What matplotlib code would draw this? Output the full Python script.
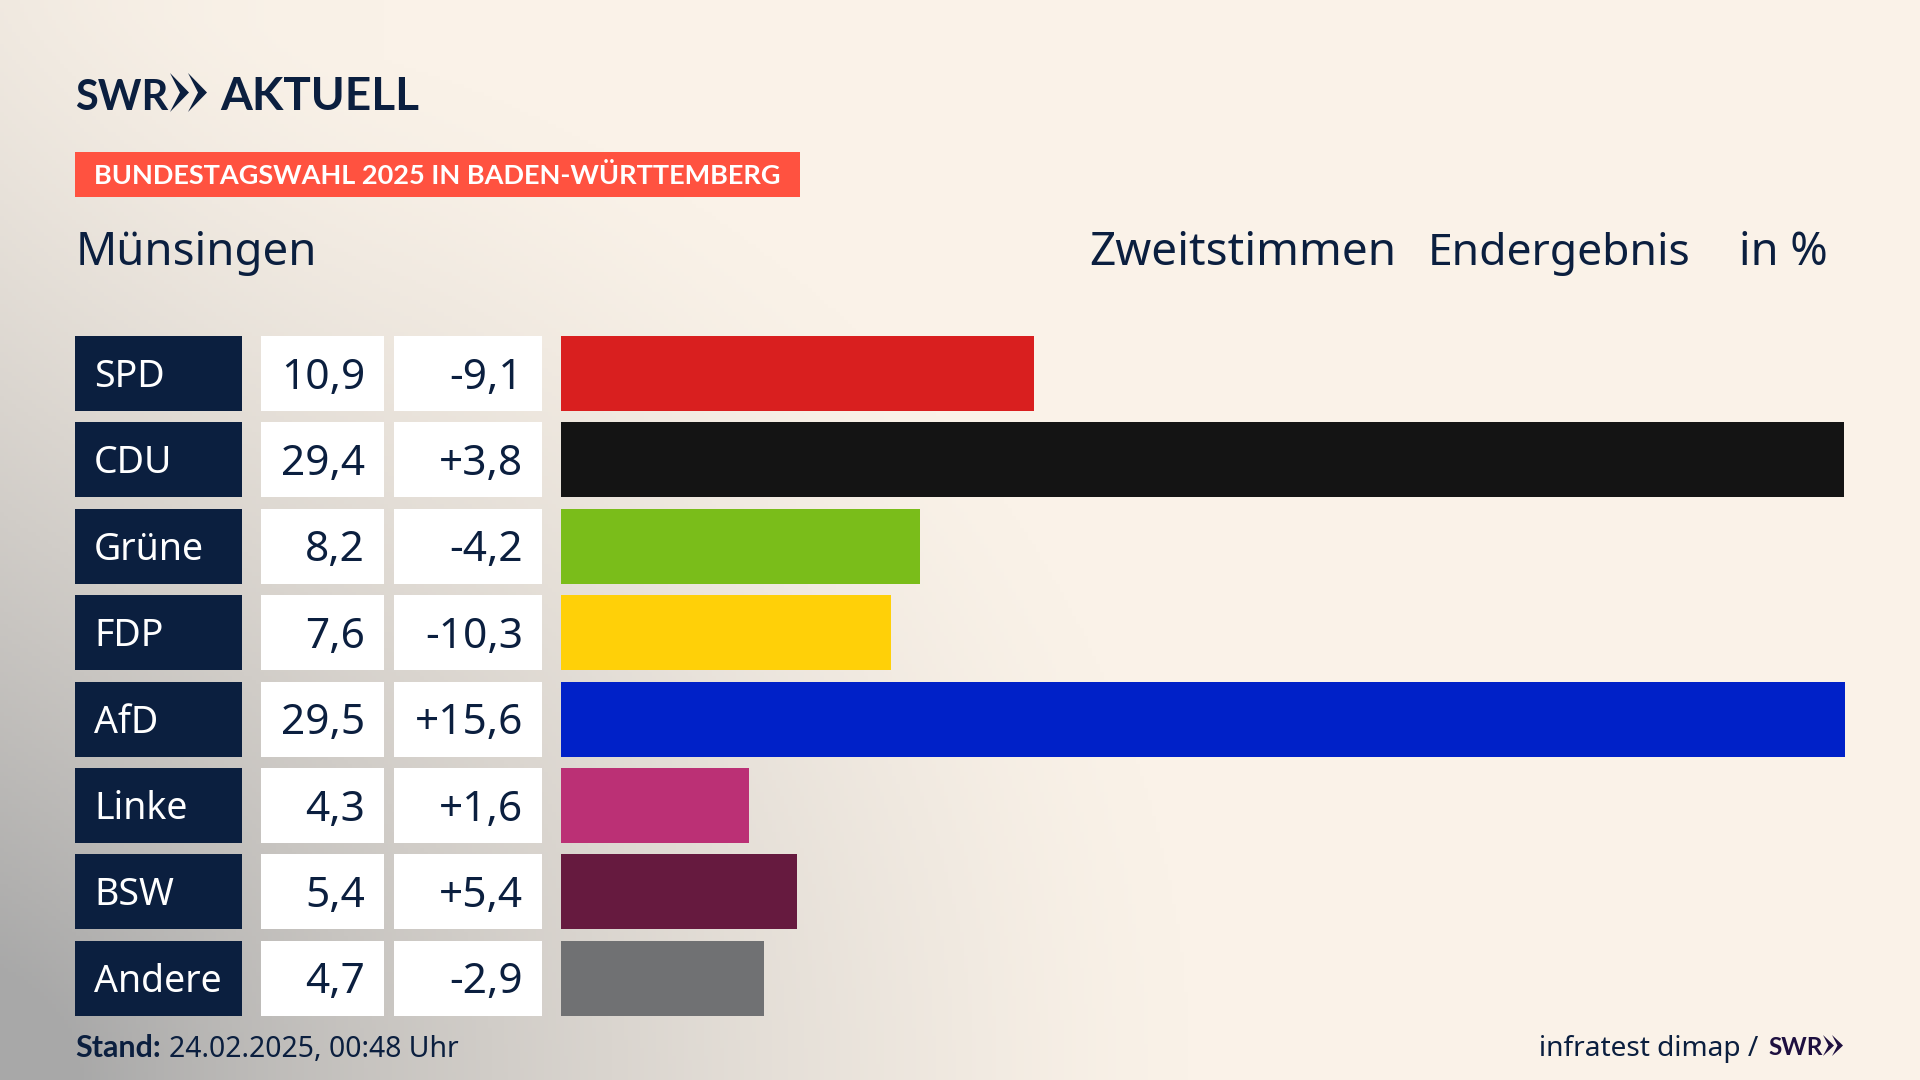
import numpy as np
import matplotlib
matplotlib.use("Agg")
import matplotlib.pyplot as plt
from matplotlib.patches import Rectangle, Polygon

plt.rcParams['font.family'] = ['Noto Sans', 'DejaVu Sans']

parties = ["SPD", "CDU", "Grüne", "FDP", "AfD", "Linke", "BSW", "Andere"]
values = ["10,9", "29,4", "8,2", "7,6", "29,5", "4,3", "5,4", "4,7"]
diffs = ["-9,1", "+3,8", "-4,2", "-10,3", "+15,6", "+1,6", "+5,4", "-2,9"]
# unrounded shares
shares = [10.87, 29.47, 8.24, 7.59, 29.5, 4.33, 5.42, 4.67]
colors = ["#D91F1F", "#141414", "#7ABD1A", "#FFD008", "#0021C8", "#BB3075", "#661A3F", "#707173"]

navy = "#0B1F3F"
purple = "#1E1040"
bold_font = ["Lato", "DejaVu Sans"]
W, H = 1920, 1080

fig = plt.figure(figsize=(19.2, 10.8), dpi=100)

# background: cream with grey glow from the lower left corner
bg = fig.add_axes([0, 0, 1, 1])
xx, yy = np.meshgrid(np.linspace(0, 1, 480), np.linspace(0, 1, 270))
r = np.sqrt((xx / 0.62) ** 2 + (yy / 1.0) ** 2)
glow = np.clip(1 - r, 0, 1) ** 1.3
left = np.clip(1 - xx / 0.2, 0, 1) ** 2 * 0.12
t = np.clip(glow * 1.0 + left, 0, 1)[..., None]
cream = np.array([250, 242, 232]) / 255
grey = np.array([168, 168, 168]) / 255
bg.imshow(cream * (1 - t) + grey * t, extent=[0, 1, 0, 1], origin="lower", aspect="auto")
bg.axis("off")

# pixel layer for cells and text
ax = fig.add_axes([0, 0, 1, 1], facecolor="none")
ax.set_xlim(0, W)
ax.set_ylim(H, 0)
ax.axis("off")

top = 336
pitch = 86.4
row_h = 75

# bars, row i starts at top + i * pitch
bar_ax = fig.add_axes([561 / W, 0, (1845 - 561) / W, 1], facecolor="none")
bar_ax.barh(np.arange(len(shares)), shares, height=row_h / pitch, align="edge", color=colors, linewidth=0)
bar_ax.set_xlim(0, 29.5)
bar_ax.set_ylim((H - top) / pitch, -top / pitch)
bar_ax.axis("off")

for i, p in enumerate(parties):
    y = top + i * pitch
    ax.add_patch(Rectangle((75, y), 167, row_h, color=navy, lw=0))
    ax.add_patch(Rectangle((261, y), 123, row_h, color="white", lw=0))
    ax.add_patch(Rectangle((394, y), 148, row_h, color="white", lw=0))
    base = y + 52.5
    ax.text(94, base - 1.5, p, color="white", fontsize=27, va="baseline", ha="left")
    ax.text(365, base, values[i], color=navy, fontsize=30.5, va="baseline", ha="right")
    ax.text(523, base, diffs[i], color=navy, fontsize=30.5, va="baseline", ha="right")


def chevrons(x, y, w, off, h, notch, col):
    for dx in (0, off):
        ax.add_patch(Polygon([(x + dx, y), (x + dx + w, y + h / 2), (x + dx, y + h), (x + dx + notch, y + h / 2)],
                             color=col, lw=0))


# logo
ax.text(75, 110, "SWR", color=navy, fontsize=30, fontweight="bold", va="baseline", family=bold_font)
chevrons(170, 73, 19, 18, 39, 10, navy)
ax.text(220, 110, "AKTUELL", color=navy, fontsize=33, fontweight="bold", va="baseline", family=bold_font)

# banner
ax.add_patch(Rectangle((75, 152), 725, 45, color="#FF5240", lw=0))
ax.text(94, 184.5, "BUNDESTAGSWAHL 2025 IN BADEN-WÜRTTEMBERG", color="white", fontsize=19.55, fontweight="bold", va="baseline", family=bold_font)

# header line
ax.text(76, 265, "Münsingen", color=navy, fontsize=32.8, va="baseline")
ax.text(1089, 265, "Zweitstimmen", color=navy, fontsize=33, va="baseline")
ax.text(1428, 265, "Endergebnis", color=navy, fontsize=32, va="baseline")
ax.text(1739, 265, "in %", color=navy, fontsize=32.4, va="baseline")

# footer
ax.text(75, 1057, "Stand:", color=navy, fontsize=22, fontweight="bold", va="baseline", family=bold_font)
ax.text(169, 1057, "24.02.2025, 00:48 Uhr", color=navy, fontsize=20.4, va="baseline")
ax.text(1539, 1056, "infratest dimap /", color=navy, fontsize=20.2, va="baseline")
ax.text(1768, 1055, "SWR", color=purple, fontsize=17.5, fontweight="bold", va="baseline", family=bold_font)
chevrons(1823, 1035, 11, 9, 21, 5.5, purple)

fig.savefig("out.png", dpi=100)
